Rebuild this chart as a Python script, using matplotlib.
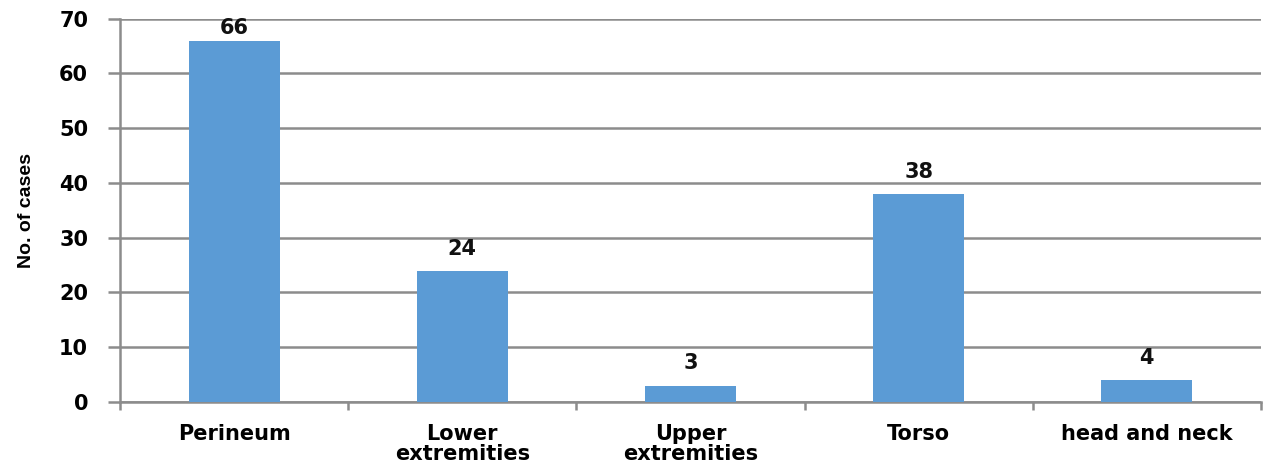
import matplotlib
matplotlib.use('Agg')
import matplotlib.pyplot as plt
import numpy as np

# data
categories = ['Perineum', 'Lower\nextremities', 'Upper\nextremities', 'Torso', 'head and neck']
cases = [66, 24, 3, 38, 4]

BAR_COLOR = '#5B9BD5'
GRID_COLOR = '#8C8C8C'
FS = 15
YMAX = 70

fig = plt.figure(figsize=(12.64, 4.69), dpi=100)
ax = fig.add_axes([0.095, 0.143, 0.9025, 0.817])

x = np.arange(len(categories))
bars = ax.bar(x, cases, width=0.4, color=BAR_COLOR, zorder=3)

# value labels sit a little above the bars, kept inside the plot area like Excel does
for xi, v in zip(x, cases):
    ax.text(xi, min(v + 2.2, YMAX - 3.5), str(v), ha='center', va='bottom', fontsize=FS,
            fontweight='bold', color='#111111', zorder=4)

ax.set_xlim(-0.5, len(categories) - 0.5)
ax.set_ylim(0, YMAX)
ax.set_yticks(np.arange(0, YMAX + 1, 10))
ax.yaxis.grid(True, color=GRID_COLOR, linewidth=1.8, zorder=0)
ax.set_axisbelow(True)

# category boundaries carry the tick marks, labels sit on minor ticks
ax.set_xticks(np.arange(-0.5, len(categories), 1.0))
ax.set_xticklabels([])
ax.set_xticks(x, minor=True)
ax.set_xticklabels(categories, minor=True, fontsize=FS, fontweight='bold', linespacing=1.0)
ax.tick_params(axis='x', which='minor', length=0, pad=16)
ax.tick_params(axis='x', which='major', length=6, width=1.8, color=GRID_COLOR)
ax.tick_params(axis='y', length=9, width=1.8, color=GRID_COLOR, labelsize=FS, pad=14)
for lbl in ax.get_yticklabels():
    lbl.set_fontweight('bold')

for s in ['top', 'right']:
    ax.spines[s].set_visible(False)
for s in ['left', 'bottom']:
    ax.spines[s].set_color(GRID_COLOR)
    ax.spines[s].set_linewidth(1.8)

ax.set_ylabel('No. of cases', family=['Liberation Sans Narrow', 'Liberation Sans', 'DejaVu Sans'],
              fontweight='bold', fontsize=14)
ax.yaxis.set_label_coords(-0.075, 0.5)

fig.savefig('out.png', dpi=100)
